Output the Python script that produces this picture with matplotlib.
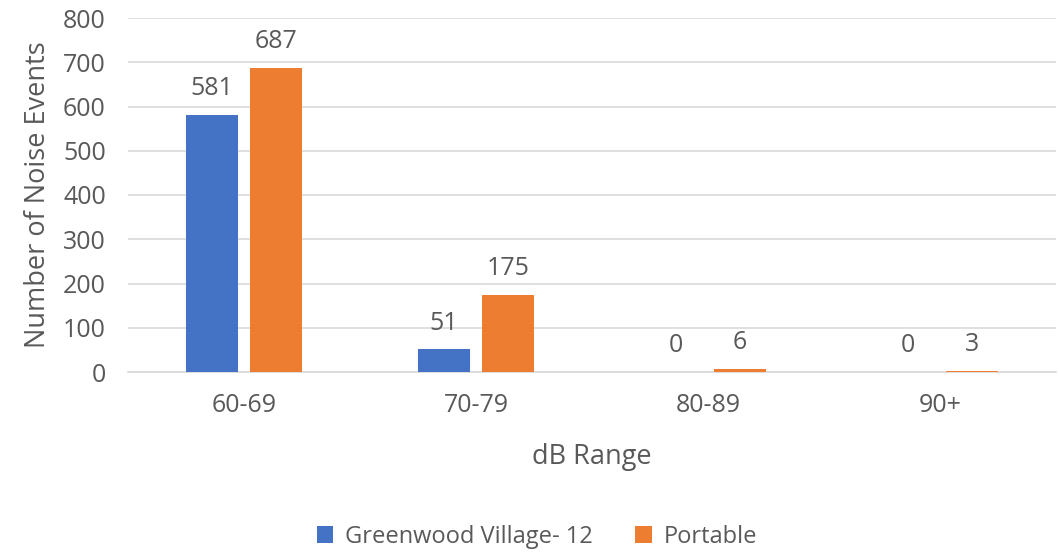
import matplotlib
matplotlib.use("Agg")
import matplotlib.pyplot as plt
import numpy as np

categories = ["60-69", "70-79", "80-89", "90+"]
series_names = ["Greenwood Village- 12", "Portable"]
greenwood = [581, 51, 0, 0]
portable = [687, 175, 6, 3]
yticks = [0, 100, 200, 300, 400, 500, 600, 700, 800]

plt.rcParams['font.family'] = ['Open Sans', 'DejaVu Sans']
txt = '#595959'

fig = plt.figure(figsize=(10.59, 5.52), dpi=100)
ax = fig.add_axes([128/1059, 1-372/552, 928/1059, 354/552])

x = np.arange(len(categories))
w = 0.224
gap = 0.052
off = (w + gap) / 2
b1 = ax.bar(x - off, greenwood, w, color='#4472C4', label=series_names[0], zorder=3)
b2 = ax.bar(x + off, portable, w, color='#ED7D31', label=series_names[1], zorder=3)

for bars, vals in ((b1, greenwood), (b2, portable)):
    for r, v in zip(bars, vals):
        ax.annotate(str(v), (r.get_x() + r.get_width()/2, v), xytext=(0, 10),
                    textcoords='offset points', ha='center', va='bottom',
                    fontsize=18, color=txt)

ax.set_xlim(-0.5, len(categories) - 0.5)
ax.set_ylim(0, 800)
ax.set_yticks(yticks)
ax.set_xticks(x)
ax.set_xticklabels(categories)
ax.tick_params(axis='both', length=0, labelsize=18, labelcolor=txt)
ax.tick_params(axis='x', pad=15)
ax.tick_params(axis='y', pad=16)
ax.grid(axis='y', color='#D9D9D9', linewidth=1.2, zorder=0)
for s in ['top', 'right', 'left']:
    ax.spines[s].set_visible(False)
ax.spines['bottom'].set_color('#D9D9D9')
ax.spines['bottom'].set_linewidth(1.2)
ax.set_xlabel('dB Range', fontsize=19.5, color=txt, labelpad=18)
ax.set_ylabel('Number of Noise Events', fontsize=19.5, color=txt, labelpad=8)

fig.legend(handles=[b1, b2], loc='center', bbox_to_anchor=(537/1059, 1-537/552),
           ncol=2, frameon=False, fontsize=17, labelcolor=txt,
           handlelength=0.7, handleheight=0.7, columnspacing=1.8, handletextpad=0.5)

fig.savefig('out.png', dpi=100)
